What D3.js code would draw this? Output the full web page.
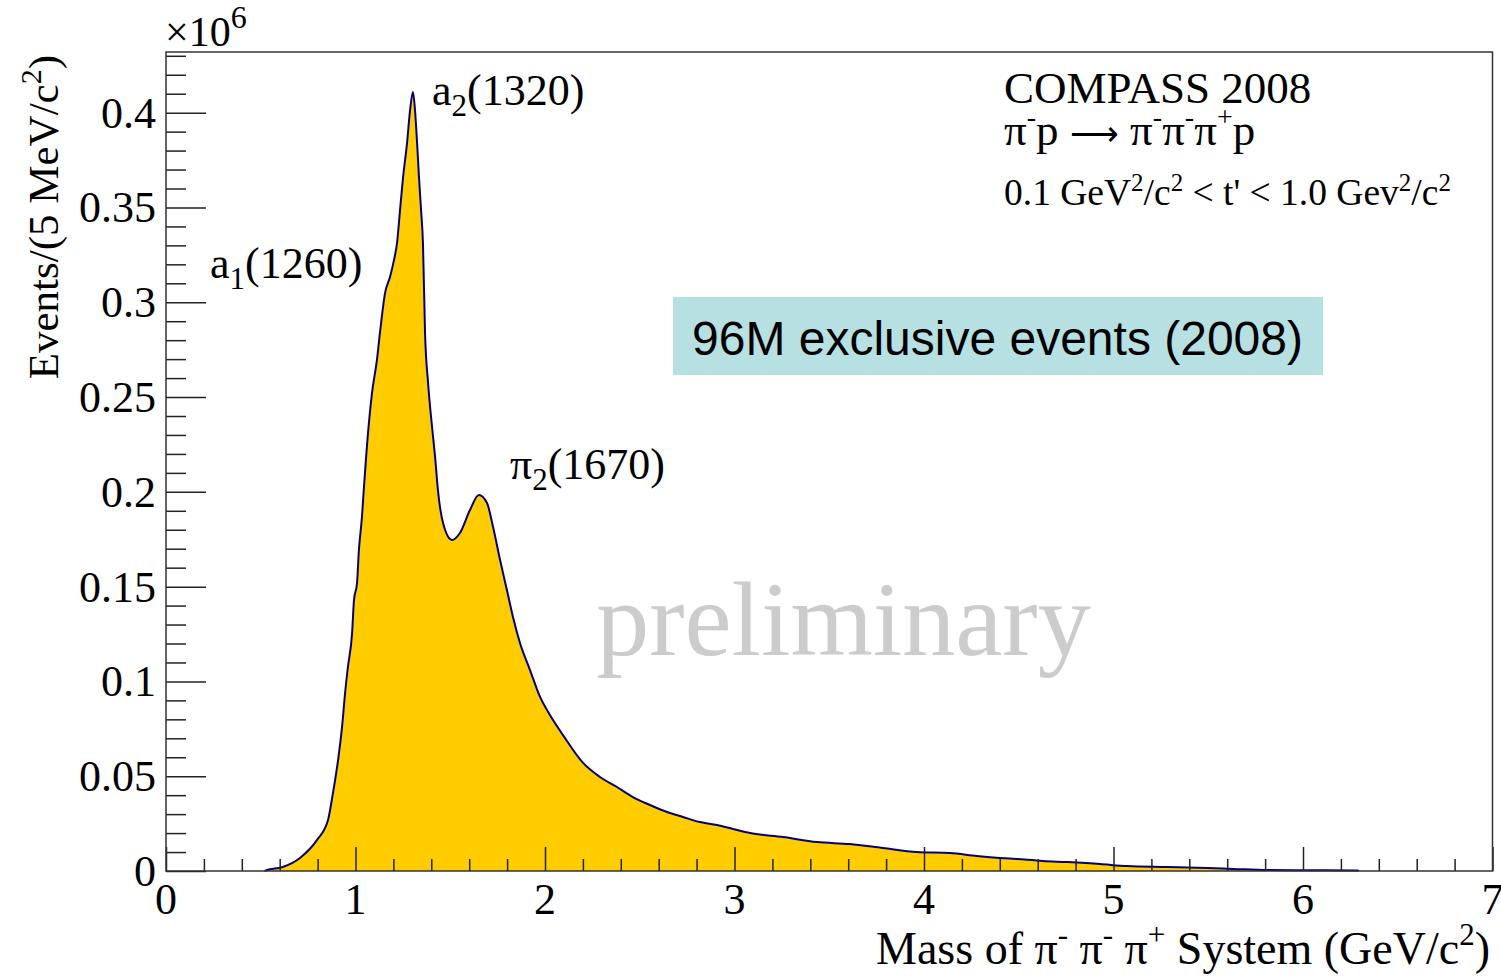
<!DOCTYPE html>
<html>
<head>
<meta charset="utf-8">
<script src="https://cdn.jsdelivr.net/npm/d3@7"></script>
<style>
  body { margin: 0; background: #fff; }
  svg { display: block; }
</style>
</head>
<body>
<div class="chart"></div>
<script>
// 3-pion invariant mass spectrum (events per 5 MeV, units of 10^6)
var massGeV = [0.520, 0.533, 0.612, 0.707, 0.797, 0.855, 0.881, 0.908, 0.929, 0.945,
  0.960, 0.982, 0.992, 1.008, 1.018, 1.034, 1.040, 1.066, 1.087, 1.113,
  1.129, 1.156, 1.182, 1.203, 1.219, 1.235, 1.251, 1.272, 1.288, 1.303,
  1.314, 1.325, 1.335, 1.346, 1.356, 1.367, 1.383, 1.404, 1.420, 1.435,
  1.462, 1.509, 1.551, 1.604, 1.651, 1.694, 1.726, 1.763, 1.799, 1.831,
  1.868, 1.921, 1.974, 2.026, 2.095, 2.201, 2.290, 2.380, 2.464, 2.554,
  2.644, 2.728, 2.818, 2.908, 2.992, 3.082, 3.256, 3.435, 3.609, 3.784,
  3.963, 4.137, 4.280, 4.401, 4.491, 4.628, 4.755, 4.929, 5.071, 5.282,
  5.493, 5.631, 5.810, 5.984, 6.290, 6.295];
var eventsM = [0.0000, 0.0005, 0.0020, 0.0069, 0.0164, 0.0269, 0.0411, 0.0585, 0.0760, 0.0939,
  0.1076, 0.1255, 0.1429, 0.1519, 0.1693, 0.1867, 0.1956, 0.2310, 0.2521, 0.2695,
  0.2838, 0.3049, 0.3133, 0.3222, 0.3312, 0.3486, 0.3660, 0.3840, 0.4014, 0.4109,
  0.4014, 0.3840, 0.3660, 0.3486, 0.3312, 0.2838, 0.2574, 0.2342, 0.2184, 0.2009,
  0.1835, 0.1746, 0.1783, 0.1904, 0.1983, 0.1941, 0.1814, 0.1640, 0.1482, 0.1340,
  0.1203, 0.1060, 0.0918, 0.0823, 0.0717, 0.0570, 0.0496, 0.0443, 0.0390, 0.0348,
  0.0311, 0.0285, 0.0258, 0.0243, 0.0222, 0.0200, 0.0179, 0.0153, 0.0142, 0.0121,
  0.0100, 0.0095, 0.0079, 0.0069, 0.0063, 0.0053, 0.0047, 0.0037, 0.0026, 0.0021,
  0.0016, 0.0011, 0.0005, 0.0004, 0.0003, 0.0000];

var xMajorTicks = [0, 1, 2, 3, 4, 5, 6, 7];
var yMajorTicks = [0, 0.05, 0.1, 0.15, 0.2, 0.25, 0.3, 0.35, 0.4];
var yTickLabels = ["0", "0.05", "0.1", "0.15", "0.2", "0.25", "0.3", "0.35", "0.4"];

var peaks = [
  { name: "a", sub: "1", mass: "(1260)", x: 0.232, y: 0.313 },
  { name: "a", sub: "2", mass: "(1320)", x: 1.404, y: 0.404 },
  { name: "\u03c0", sub: "2", mass: "(1670)", x: 1.815, y: 0.207 }
];

var svgWidth = 1501;
var svgHeight = 976;

var margin = { top: 52, right: 8, bottom: 105, left: 166 };
var width = svgWidth - margin.left - margin.right;
var height = svgHeight - margin.top - margin.bottom;

var serif = "'Liberation Serif', 'Times New Roman', serif";

var svg = d3.select(".chart")
  .append("svg")
  .attr("width", svgWidth)
  .attr("height", svgHeight);

var xScale = d3.scaleLinear()
  .domain([0, 7])
  .range([margin.left, margin.left + width - 0.5]);

var yScale = d3.scaleLinear()
  .domain([0, 0.432])
  .range([margin.top + height, margin.top]);

var points = massGeV.map(function(m, i) {
  return [m, eventsM[i]];
});

// filled histogram
var area = d3.area()
  .curve(d3.curveMonotoneX)
  .x(function(d) { return xScale(d[0]); })
  .y0(yScale(0))
  .y1(function(d) { return yScale(d[1]); });

var line = d3.line()
  .curve(d3.curveMonotoneX)
  .x(function(d) { return xScale(d[0]); })
  .y(function(d) { return yScale(d[1]); });

svg.append("path")
  .datum(points)
  .attr("d", area)
  .attr("fill", "#ffcc00")
  .attr("stroke", "none");

svg.append("path")
  .datum(points)
  .attr("d", line)
  .attr("fill", "none")
  .attr("stroke", "#000080")
  .attr("stroke-width", 2);

// preliminary watermark
svg.append("text")
  .text("preliminary")
  .attr("x", xScale(2.27))
  .attr("y", yScale(0.114))
  .attr("font-family", serif)
  .attr("font-size", 106)
  .attr("fill", "#cccccc");

// x ticks (pointing up, minor every 0.2)
var xAxis = d3.axisTop(xScale)
  .tickValues(d3.range(0, 7.001, 0.2))
  .tickSize(12)
  .tickFormat("");
var gx = svg.append("g")
  .attr("transform", "translate(0," + yScale(0) + ")")
  .call(xAxis);
gx.select(".domain").remove();
gx.selectAll(".tick line")
  .attr("stroke", "#222")
  .attr("stroke-width", 1.5)
  .attr("y2", function(d) {
    return Math.abs(d - Math.round(d)) < 1e-6 ? -24 : -12;
  });

// y ticks (pointing right, minor every 0.01)
var yAxis = d3.axisRight(yScale)
  .tickValues(d3.range(0, 0.4301, 0.01))
  .tickSize(20)
  .tickFormat("");
var gy = svg.append("g")
  .attr("transform", "translate(" + xScale(0) + ",0)")
  .call(yAxis);
gy.select(".domain").remove();
gy.selectAll(".tick line")
  .attr("stroke", "#222")
  .attr("stroke-width", 1.5)
  .attr("x2", function(d) {
    var k = Math.round(d * 100);
    return k % 5 === 0 ? 40 : 20;
  });

// frame
svg.append("rect")
  .attr("x", xScale(0))
  .attr("y", yScale(0.432))
  .attr("width", xScale(7) - xScale(0))
  .attr("height", yScale(0) - yScale(0.432))
  .attr("fill", "none")
  .attr("stroke", "#333")
  .attr("stroke-width", 1.5);

// tick labels
svg.append("g")
  .selectAll("text")
  .data(xMajorTicks)
  .enter()
  .append("text")
  .text(function(d) { return d; })
  .attr("x", function(d) { return xScale(d); })
  .attr("y", 914)
  .attr("text-anchor", "middle")
  .attr("font-family", serif)
  .attr("font-size", 44)
  .attr("fill", "#000");

svg.append("g")
  .selectAll("text")
  .data(yMajorTicks)
  .enter()
  .append("text")
  .text(function(d, i) { return yTickLabels[i]; })
  .attr("x", 156)
  .attr("y", function(d) { return yScale(d) + 15; })
  .attr("text-anchor", "end")
  .attr("font-family", serif)
  .attr("font-size", 44)
  .attr("fill", "#000");

// x10^6 exponent
var expo = svg.append("text")
  .attr("x", 165)
  .attr("y", 46)
  .attr("font-family", serif)
  .attr("font-size", 42)
  .attr("fill", "#000");
expo.append("tspan").text("\u00d710");
expo.append("tspan").text("6").attr("font-size", 32).attr("dy", -18);

// axis titles
var xTitle = svg.append("text")
  .attr("x", 1490)
  .attr("y", 964)
  .attr("text-anchor", "end")
  .attr("font-family", serif)
  .attr("font-size", 46)
  .attr("fill", "#000");
xTitle.append("tspan").text("Mass of \u03c0");
xTitle.append("tspan").text("-").attr("font-size", 31).attr("dy", -19);
xTitle.append("tspan").text(" \u03c0").attr("dy", 19);
xTitle.append("tspan").text("-").attr("font-size", 31).attr("dy", -19);
xTitle.append("tspan").text(" \u03c0").attr("dy", 19);
xTitle.append("tspan").text("+").attr("font-size", 31).attr("dy", -19);
xTitle.append("tspan").text(" System (GeV/c").attr("dy", 19);
xTitle.append("tspan").text("2").attr("font-size", 31).attr("dy", -19);
xTitle.append("tspan").text(")").attr("dy", 19);

var yTitle = svg.append("text")
  .attr("transform", "translate(58,55) rotate(-90)")
  .attr("text-anchor", "end")
  .attr("font-family", serif)
  .attr("font-size", 43)
  .attr("fill", "#000");
yTitle.append("tspan").text("Events/(5 MeV/c");
yTitle.append("tspan").text("2").attr("font-size", 30).attr("dy", -17);
yTitle.append("tspan").text(")").attr("dy", 17);

// resonance labels
peaks.forEach(function(p) {
  var t = svg.append("text")
    .attr("x", xScale(p.x))
    .attr("y", yScale(p.y))
    .attr("font-family", serif)
    .attr("font-size", 44)
    .attr("fill", "#000");
  t.append("tspan").text(p.name);
  t.append("tspan").text(p.sub).attr("font-size", 31).attr("dy", 11);
  t.append("tspan").text(p.mass).attr("dy", -11);
});

// experiment info
svg.append("text")
  .text("COMPASS 2008")
  .attr("x", 1004)
  .attr("y", 103)
  .attr("font-family", serif)
  .attr("font-size", 45)
  .attr("fill", "#000");

var reac = svg.append("text")
  .attr("x", 1004)
  .attr("y", 145)
  .attr("font-family", serif)
  .attr("font-size", 45)
  .attr("fill", "#000");
reac.append("tspan").text("\u03c0");
reac.append("tspan").text("-").attr("font-size", 28).attr("dy", -19);
reac.append("tspan").text("p ").attr("dy", 19);
reac.append("tspan").text("\u27f6").attr("font-size", 34);
reac.append("tspan").text(" \u03c0");
reac.append("tspan").text("-").attr("font-size", 28).attr("dy", -19);
reac.append("tspan").text("\u03c0").attr("dy", 19);
reac.append("tspan").text("-").attr("font-size", 28).attr("dy", -19);
reac.append("tspan").text("\u03c0").attr("dy", 19);
reac.append("tspan").text("+").attr("font-size", 28).attr("dy", -19);
reac.append("tspan").text("p").attr("dy", 19);

var tcut = svg.append("text")
  .attr("x", 1004)
  .attr("y", 205)
  .attr("font-family", serif)
  .attr("font-size", 37.5)
  .attr("fill", "#000");
tcut.append("tspan").text("0.1 GeV");
tcut.append("tspan").text("2").attr("font-size", 25).attr("dy", -14);
tcut.append("tspan").text("/c").attr("dy", 14);
tcut.append("tspan").text("2").attr("font-size", 25).attr("dy", -14);
tcut.append("tspan").text(" < t' < 1.0 Gev").attr("dy", 14);
tcut.append("tspan").text("2").attr("font-size", 25).attr("dy", -14);
tcut.append("tspan").text("/c").attr("dy", 14);
tcut.append("tspan").text("2").attr("font-size", 25).attr("dy", -14);

// statistics box
svg.append("rect")
  .attr("x", 673)
  .attr("y", 297)
  .attr("width", 650)
  .attr("height", 78)
  .attr("fill", "#b7e0e3");

svg.append("text")
  .text("96M exclusive events (2008)")
  .attr("x", 692)
  .attr("y", 355)
  .attr("font-family", "'Liberation Sans', Arial, sans-serif")
  .attr("font-size", 48)
  .attr("fill", "#000");
</script>
</body>
</html>
